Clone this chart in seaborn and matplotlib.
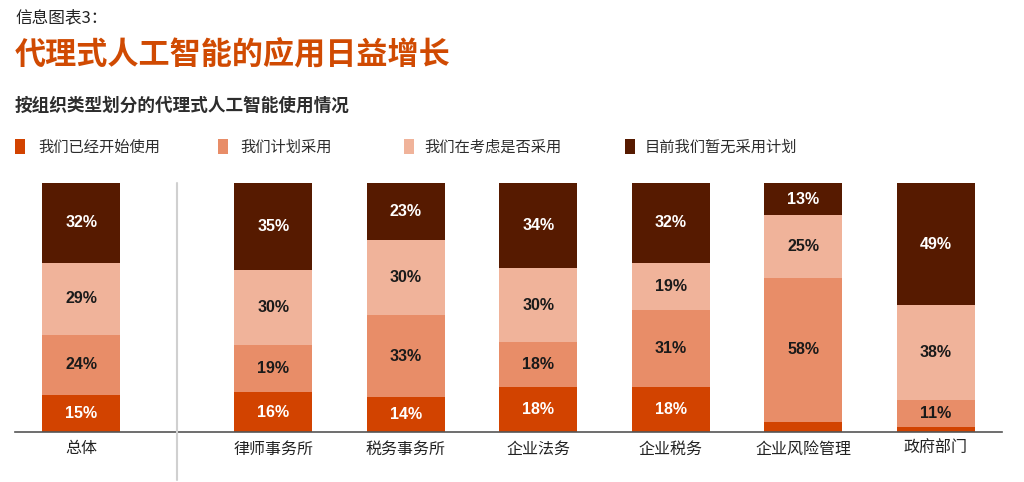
import numpy as np
import pandas as pd
import seaborn as sns
import matplotlib.pyplot as plt
from matplotlib.patches import Rectangle
from matplotlib.lines import Line2D

# data (percent)
categories = ['总体', '律师事务所', '税务事务所', '企业法务', '企业税务', '企业风险管理', '政府部门']
started = [15, 16, 14, 18, 18, 4, 2]
planning = [24, 19, 33, 18, 31, 58, 11]
considering = [29, 30, 30, 30, 19, 25, 38]
no_plan = [32, 35, 23, 34, 32, 13, 49]
series_names = ['我们已经开始使用', '我们计划采用', '我们在考虑是否采用', '目前我们暂无采用计划']

colors = ['#D24300', '#E88D68', '#F0B39A', '#561A00']
label_colors = ['white', '#1a1a1a', '#1a1a1a', 'white']

# x positions: a wider gap after the overall bar
pos = [0, 1.45, 2.45, 3.45, 4.45, 5.45, 6.45]

sns.set_theme(style='white')
plt.rcParams['font.family'] = ['Noto Sans CJK SC', 'DejaVu Sans']

W, H = 1024, 482
fig = plt.figure(figsize=(W / 100, H / 100), dpi=100)
ax = fig.add_axes([15 / W, 50 / H, 987 / W, 249 / H])

layers = [started, planning, considering, no_plan]
bottom = np.zeros(len(categories))
for vals, col, lcol in zip(layers, colors, label_colors):
    df = pd.DataFrame({'pos': pos, 'val': vals})
    sns.barplot(data=df, x='pos', y='val', native_scale=True, color=col,
                width=0.59, errorbar=None, bottom=bottom, linewidth=0,
                saturation=1, ax=ax)
    cont = ax.containers[-1]
    labels = [f'{v}%' if v >= 5 else '' for v in vals]
    ax.bar_label(cont, labels=labels, label_type='center', color=lcol,
                 fontsize=11.5, fontweight='bold',
                 family=['Liberation Sans', 'DejaVu Sans'])
    bottom = bottom + np.array(vals)

ax.set_xlim(-0.5, 6.95)
ax.set_ylim(0, 100)
ax.set_xticks(pos)
ax.set_xticklabels(categories, fontsize=11.5, color='#222222')
ax.tick_params(axis='x', length=0, pad=6)
ax.set_yticks([])
ax.set_xlabel('')
ax.set_ylabel('')
for s in ['top', 'right', 'left']:
    ax.spines[s].set_visible(False)
ax.spines['bottom'].set_color('#555555')
ax.spines['bottom'].set_linewidth(1.2)

# divider between overall and the sectors
fig.add_artist(Line2D([177 / W, 177 / W], [1 - 183 / H, 1 - 480 / H],
                      color='#d0d0d0', linewidth=1.5))

# titles
fig.text(15 / W, 1 - 18 / H, '信息图表3：', fontsize=12, color='#222222', va='center')
fig.text(15 / W, 1 - 55 / H, '代理式人工智能的应用日益增长', fontsize=22.4,
         fontweight='bold', color='#D04A02', va='center')
fig.text(15 / W, 1 - 106 / H, '按组织类型划分的代理式人工智能使用情况', fontsize=12.7,
         fontweight='bold', color='#2d2d2d', va='center')

# legend
leg_marker_x = [15, 218, 404, 625]
leg_text_x = [38, 240, 424, 645]
leg_y = 147
for mx, tx, name, col in zip(leg_marker_x, leg_text_x, series_names, colors):
    fig.add_artist(Rectangle((mx / W, 1 - (leg_y + 7) / H), 10 / W, 15 / H,
                             facecolor=col, edgecolor='none', transform=fig.transFigure))
    fig.text(tx / W, 1 - leg_y / H, name, fontsize=11, color='#2d2d2d', va='center')

fig.savefig('out.png', dpi=100)
